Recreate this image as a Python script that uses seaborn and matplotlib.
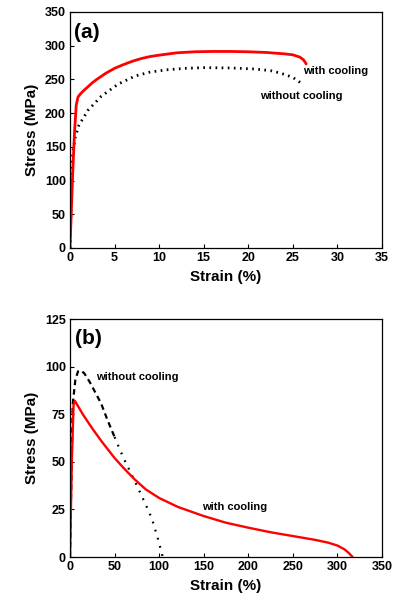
import matplotlib
matplotlib.use("Agg")
import matplotlib.pyplot as plt
import seaborn as sns

sns.set_theme(style="white")
plt.rcParams['font.family'] = ['Liberation Sans', 'DejaVu Sans']
plt.rcParams['font.weight'] = 'bold'
plt.rcParams['text.color'] = 'black'
plt.rcParams['axes.labelcolor'] = 'black'
plt.rcParams['xtick.color'] = 'black'
plt.rcParams['ytick.color'] = 'black'

# Panel (a)
a_cool_strain = [0, 0.3, 0.5, 0.7, 0.9, 1.2, 1.5, 2, 2.5, 3, 4, 5, 6, 7, 8, 9, 10, 12, 14, 16,
                 18, 20, 22, 24, 25, 25.8, 26.2, 26.5]
a_cool_stress = [0, 110, 170, 212, 224, 229, 233, 239, 245, 250, 259, 266.5, 272, 277, 281, 284,
                 286, 289.5, 291, 291.5, 291.5, 291, 290, 288, 286.5, 283, 279, 273]
a_nocool_strain = [0, 0.15, 0.3, 0.6, 1, 2, 3.5, 5.4, 7.3, 9, 11, 13, 15, 18, 20.7, 22.5, 23.7, 25, 26.1]
a_nocool_stress = [0, 80, 140, 165, 182, 204, 225, 243, 255, 261, 264.5, 266.5, 267.5, 267, 265.5,
                   263, 259, 253, 243]

# Panel (b)
b_cool_strain = [0, 2, 4, 5.5, 8, 15, 25, 35, 50, 60, 72, 85, 100, 121, 150, 175, 200, 225, 250,
                 275, 290, 300, 308, 313, 317]
b_cool_stress = [0, 50, 80, 82, 80, 74.5, 67.5, 61, 52, 46.8, 41, 35.5, 31, 26.3, 21.5, 18, 15.4, 13,
                 11, 9, 7.5, 6, 4, 2, 0]
b_nocool_strain = [0, 3, 6, 9, 12, 16, 22, 30, 35, 42, 50, 60, 72, 84, 92, 99, 104]
b_nocool_stress = [0, 80, 93, 97.5, 98, 96.5, 92, 85, 80.5, 72, 63, 52, 40.5, 28.5, 20, 9, 0]

fig = plt.figure(figsize=(3.95, 6.03), dpi=100)
ax1 = fig.add_axes([70/395, 1-248/603, 312/395, 236/603])
ax2 = fig.add_axes([70/395, 1-557/603, 312/395, 238/603])

def style(ax, xmax, xstep, ymax, ystep):
    ax.set_xlim(0, xmax)
    ax.set_ylim(0, ymax)
    ax.set_xticks(range(0, xmax + 1, xstep))
    ax.set_yticks(range(0, ymax + 1, ystep))
    for s in ax.spines.values():
        s.set_color('black'); s.set_linewidth(0.9)
    ax.tick_params(direction='in', length=3, width=0.8, colors='black', labelsize=9,
                   bottom=True, left=True, pad=3)
    for lab in ax.get_xticklabels() + ax.get_yticklabels():
        lab.set_fontweight('bold')
    ax.set_xlabel('Strain (%)', fontsize=11, fontweight='bold', labelpad=4)
    ax.set_ylabel('Stress (MPa)', fontsize=11, fontweight='bold', labelpad=4)
    ax.grid(False)

sns.lineplot(x=a_nocool_strain, y=a_nocool_stress, ax=ax1, color='black', linewidth=2,
             linestyle=(0, (0.6, 1.6)), sort=False)
sns.lineplot(x=a_cool_strain, y=a_cool_stress, ax=ax1, color='#ff0000', linewidth=2, sort=False)
style(ax1, 35, 5, 350, 50)
ax1.text(0.5, 334, '(a)', fontsize=15, fontweight='bold', va='top')
ax1.text(26.1, 262, 'with cooling', fontsize=8, fontweight='bold', va='center')
ax1.text(21.3, 226, 'without cooling', fontsize=8, fontweight='bold', va='center')

# dashed part and dotted tail for (b) without cooling
n = 10
sns.lineplot(x=b_nocool_strain[:n+1], y=b_nocool_stress[:n+1], ax=ax2, color='black', linewidth=1.6,
             linestyle=(0, (2.5, 1.8)), sort=False)
sns.lineplot(x=b_nocool_strain[n:], y=b_nocool_stress[n:], ax=ax2, color='black', linewidth=1.6,
             linestyle=(0, (0.8, 3)), sort=False)
sns.lineplot(x=b_cool_strain, y=b_cool_stress, ax=ax2, color='#ff0000', linewidth=1.7, sort=False)
style(ax2, 350, 50, 125, 25)
ax2.text(6, 120, '(b)', fontsize=15, fontweight='bold', va='top')
ax2.text(29, 94.7, 'without cooling', fontsize=8, fontweight='bold', va='center')
ax2.text(148, 26.4, 'with cooling', fontsize=8, fontweight='bold', va='center')

fig.savefig('out.png', dpi=100)
